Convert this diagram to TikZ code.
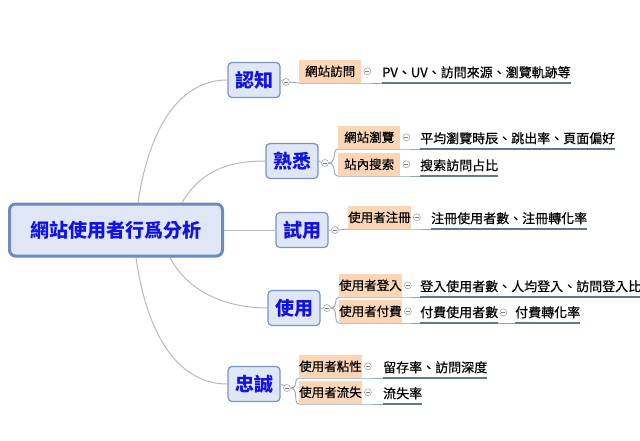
\documentclass[tikz,border=0pt]{standalone}
\usepackage{fontspec}
\newfontfamily\cjk{Noto Sans CJK TC}
\newfontfamily\cjktext[FakeBold=0.5]{Noto Sans CJK TC}
\usepackage{xcolor}
\usepackage{tikz}
\usetikzlibrary{backgrounds}

\definecolor{rootfill}{RGB}{223,230,245}
\definecolor{rootline}{RGB}{108,140,190}
\definecolor{topicline}{RGB}{125,148,185}
\definecolor{nodeblue}{RGB}{18,18,225}
\definecolor{peach}{RGB}{250,214,183}
\definecolor{linkgray}{RGB}{185,185,185}
\definecolor{baseblue}{RGB}{150,165,185}
\definecolor{ulineblue}{RGB}{98,118,142}

\tikzset{
  mainbox/.style={draw=rootline, line width=3pt, fill=rootfill, rounded corners=6pt,
    minimum width=213pt, minimum height=52pt, text=nodeblue,
    font=\cjk\bfseries\fontsize{19}{21}\selectfont},
  topic/.style={draw=topicline, line width=1.2pt, fill=rootfill, rounded corners=4pt,
    minimum width=52pt, minimum height=35pt, text=nodeblue,
    font=\cjk\bfseries\fontsize{19}{21}\selectfont},
  subtopic/.style={fill=peach, anchor=south west, inner sep=0pt, minimum width=62pt,
    minimum height=23pt, font=\cjktext\fontsize{12.5}{14}\selectfont},
  detail/.style={anchor=south west, inner xsep=0pt, inner ysep=4.5pt,
    font=\cjktext\fontsize{13}{15}\selectfont},
  fold/.style={circle, draw=gray!70, fill=white, line width=0.6pt, inner sep=0pt,
    minimum size=7pt,
    path picture={\draw[gray, line width=0.6pt]
      ([xshift=-2pt]path picture bounding box.center) --
      ([xshift=2pt]path picture bounding box.center);}},
  branch/.style={draw=linkgray, line width=1pt},
  base/.style={draw=baseblue, line width=0.9pt},
  uline/.style={draw=ulineblue, line width=2pt},
}

\begin{document}
\begin{tikzpicture}[x=1pt, y=-1pt]
  \useasboundingbox (0,0) rectangle (640,440);

  \node[mainbox] (root) at (116,230) {網站使用者行爲分析};

  \node[topic] (renzhi) at (254,80) {認知};
  \node[topic] (shuxi) at (292,161) {熟悉};
  \node[topic] (shiyong) at (302,230) {試用};
  \node[topic] (shiyong2) at (294,308) {使用};
  \node[topic] (zhongcheng) at (254,384) {忠誠};

  \node[fold] (f1) at (286,82) {};
  \node[fold] (f2) at (325,163) {};
  \node[fold] (f3) at (335,230) {};
  \node[fold] (f4) at (327,308) {};
  \node[fold] (f5) at (287,388) {};

  \node[subtopic] (fangwen) at (299,83) {網站訪問};
  \node[subtopic] (liulan) at (338,149) {網站瀏覽};
  \node[subtopic] (sousuo) at (338,176) {站內搜索};
  \node[subtopic] (zhuce) at (348,229) {使用者注冊};
  \node[subtopic] (denglu) at (339,297) {使用者登入};
  \node[subtopic] (fufei) at (339,323) {使用者付費};
  \node[subtopic] (zhanxing) at (299,378) {使用者粘性};
  \node[subtopic] (liushi) at (299,404) {使用者流失};

  \node[detail] (d-fangwen) at (382,83) {PV、UV、訪問來源、瀏覽軌跡等};
  \node[detail] (d-liulan) at (420,149) {平均瀏覽時辰、跳出率、頁面偏好};
  \node[detail] (d-sousuo) at (420,176) {搜索訪問占比};
  \node[detail] (d-zhuce) at (431,229) {注冊使用者數、注冊轉化率};
  \node[detail] (d-denglu) at (420,297) {登入使用者數、人均登入、訪問登入比};
  \node[detail] (d-fufei) at (420,323) {付費使用者數};
  \node[detail] (d-zhuanhua) at (515,323) {付費轉化率};
  \node[detail] (d-zhanxing) at (383,378) {留存率、訪問深度};
  \node[detail] (d-liushi) at (383,404) {流失率};

  \foreach \c in {fangwen,liulan,sousuo,zhuce,denglu,fufei,zhanxing,liushi}
    \node[fold] (g-\c) at ([xshift=6pt]\c.east) {};
  \node[fold] (g-zhuanhua) at ([xshift=5pt]d-fufei.east) {};

  \begin{pgfonlayer}{background}
    \draw[branch] ([xshift=22pt]root.north) .. controls +(12,-80) and +(-45,0) .. (renzhi.west);
    \draw[branch] ([xshift=66pt]root.north) .. controls +(18,-30) and +(-40,0) .. (shuxi.west);
    \draw[branch] (root.east) -- (shiyong.west);
    \draw[branch] ([xshift=54pt]root.south) .. controls +(18,35) and +(-40,0) .. (shiyong2.west);
    \draw[branch] ([xshift=20pt]root.south) .. controls +(12,85) and +(-45,0) .. (zhongcheng.west);

    \draw[branch] (renzhi.east) -- (f1);
    \draw[branch] (shuxi.east) -- (f2);
    \draw[branch] (shiyong.east) -- (f3);
    \draw[branch] (shiyong2.east) -- (f4);
    \draw[branch] (zhongcheng.east) -- (f5);

    \draw[base] (f1.east) -- (fangwen.south west);
    \draw[base] (f2.east) .. controls +(8,0) and +(-6,0) .. (liulan.south west);
    \draw[base] (f2.east) .. controls +(8,0) and +(-6,0) .. (sousuo.south west);
    \draw[base] (f3.east) -- (zhuce.south west);
    \draw[base] (f4.east) .. controls +(8,0) and +(-6,0) .. (denglu.south west);
    \draw[base] (f4.east) .. controls +(8,0) and +(-6,0) .. (fufei.south west);
    \draw[base] (f5.east) .. controls +(8,0) and +(-6,0) .. (zhanxing.south west);
    \draw[base] (f5.east) .. controls +(8,0) and +(-6,0) .. (liushi.south west);

    \foreach \c in {fangwen,liulan,sousuo,zhuce,denglu,fufei,zhanxing,liushi}
      \draw[base] (\c.south west) -- (\c.south east) -- (d-\c.south west);
    \draw[base] (d-fufei.south east) -- (d-zhuanhua.south west);
  \end{pgfonlayer}

  \foreach \d in {fangwen,liulan,sousuo,zhuce,denglu,fufei,zhuanhua,zhanxing,liushi}
    \draw[uline] (d-\d.south west) -- (d-\d.south east);
\end{tikzpicture}
\end{document}
